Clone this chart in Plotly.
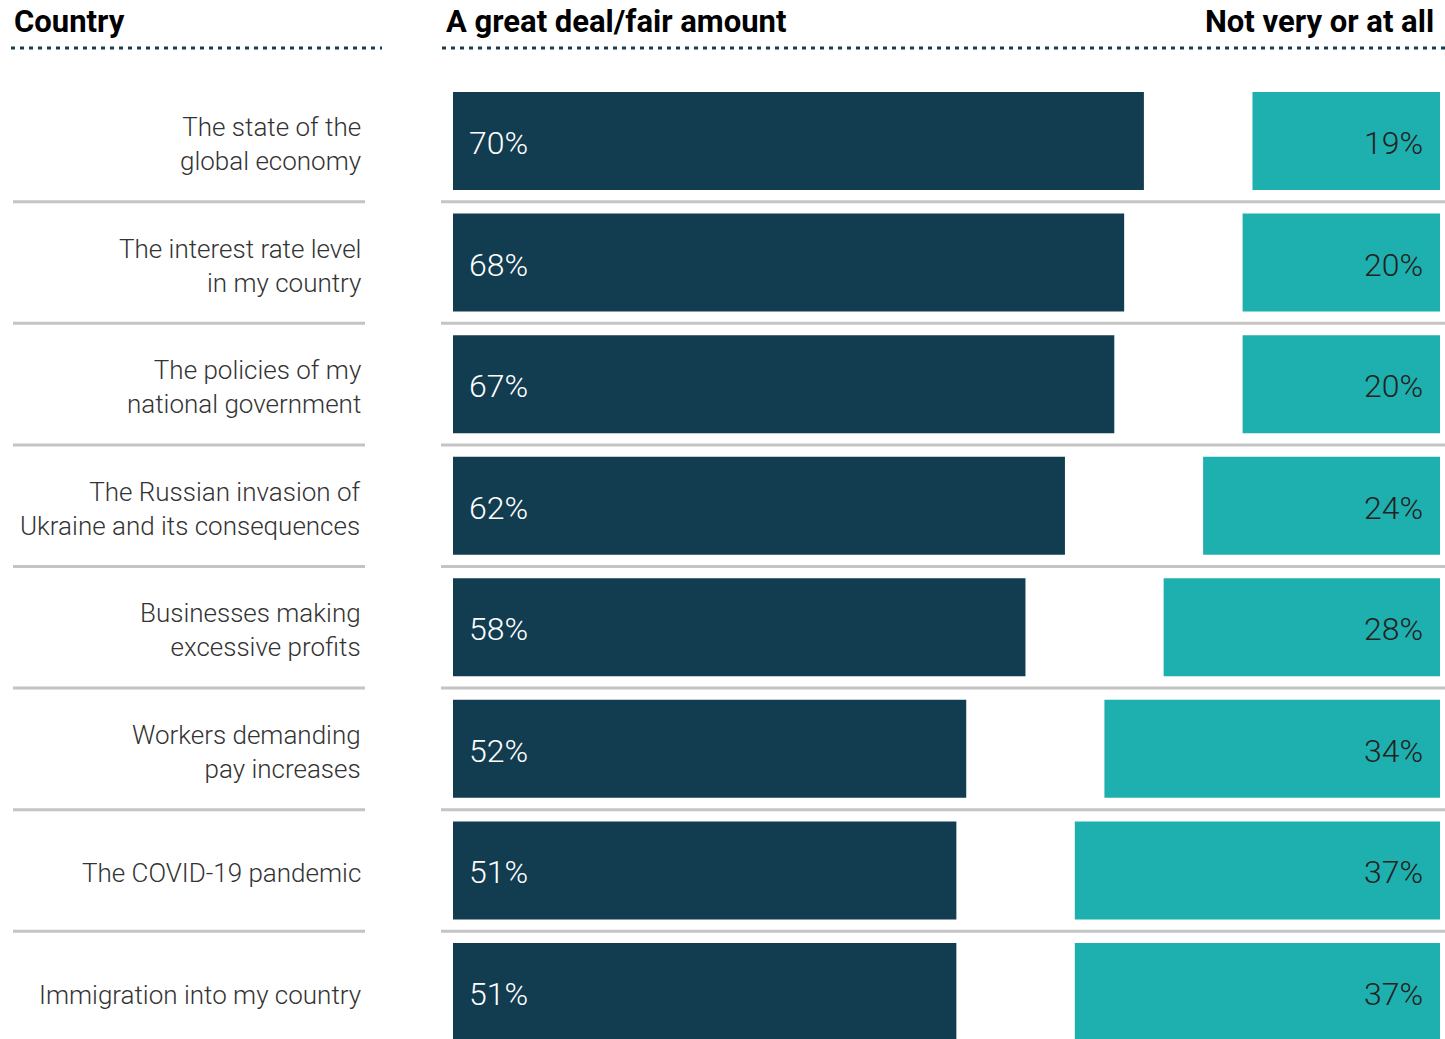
import plotly.graph_objects as go

# data
topics = [
    "The state of the<br>global economy",
    "The interest rate level<br>in my country",
    "The policies of my<br>national government",
    "The Russian invasion of<br>Ukraine and its consequences",
    "Businesses making<br>excessive profits",
    "Workers demanding<br>pay increases",
    "The COVID-19 pandemic",
    "Immigration into my country",
]
great_deal = [70, 68, 67, 62, 58, 52, 51, 51]
not_very = [19, 20, 20, 24, 28, 34, 37, 37]

W, H = 1445, 1039
DARK = "#123c4f"
TEAL = "#1eb0ae"
FONT = "Roboto"

px_per_pct = 9.87
bar_left = 453
row_step = 121.57
first_row = 141


def px(x):
    return x / W


def py(y):
    return 1 - y / H


fig = go.Figure()

fig.add_trace(go.Bar(
    y=topics, x=great_deal, orientation="h",
    marker=dict(color=DARK, line=dict(width=0)),
    width=0.806, hoverinfo="skip",
))
fig.add_trace(go.Bar(
    y=topics, x=not_very, base=[100 - v for v in not_very], orientation="h",
    marker=dict(color=TEAL, line=dict(width=0)),
    width=0.806, hoverinfo="skip",
))

annotations = []
for t, g, n in zip(topics, great_deal, not_very):
    annotations.append(dict(
        x=px(363), xref="paper", y=t, yref="y", text=t, showarrow=False,
        xanchor="right", yanchor="middle", align="right", yshift=-3,
        font=dict(family=FONT, size=26, color="#333333", weight=300),
    ))
    annotations.append(dict(
        x=0, xref="x", y=t, yref="y", text=f"{g}%", showarrow=False,
        xanchor="left", yanchor="middle", xshift=14, yshift=-2,
        font=dict(family=FONT, size=32, color="white", weight=300),
    ))
    annotations.append(dict(
        x=100, xref="x", y=t, yref="y", text=f"{n}%", showarrow=False,
        xanchor="right", yanchor="middle", xshift=-15, yshift=-2,
        font=dict(family=FONT, size=32, color="#222222", weight=300),
    ))

head_font = dict(family=FONT, size=31, color="black", weight=700)
for x, anchor, text in [(13, "left", "Country"),
                        (445, "left", "A great deal/fair amount"),
                        (1435, "right", "Not very or at all")]:
    annotations.append(dict(x=px(x), y=py(21), xref="paper", yref="paper", text=text,
                            showarrow=False, xanchor=anchor, yanchor="middle",
                            borderpad=0, font=head_font))

shapes = []
for x0, x1 in [(11, 382), (442, 1445)]:
    shapes.append(dict(type="line", xref="paper", yref="paper", x0=px(x0), x1=px(x1),
                       y0=py(48), y1=py(48), line=dict(color="#1a3c4f", width=3, dash="4px,5px")))
for i in range(len(topics) - 1):
    for x0, x1 in [(13, 365), (441, 1445)]:
        shapes.append(dict(type="line", xref="paper", yref="y", x0=px(x0), x1=px(x1),
                           y0=i + 0.5, y1=i + 0.5, line=dict(color="#c4c4c4", width=3)))

fig.update_layout(
    width=W, height=H,
    margin=dict(l=0, r=0, t=0, b=0),
    paper_bgcolor="white", plot_bgcolor="white",
    showlegend=False, barmode="overlay",
    xaxis=dict(range=[-bar_left / px_per_pct, (W - bar_left) / px_per_pct],
               visible=False, fixedrange=True),
    yaxis=dict(categoryorder="array", categoryarray=topics,
               range=[len(topics) - 1 + (H - first_row - (len(topics) - 1) * row_step) / row_step,
                      -first_row / row_step],
               visible=False, fixedrange=True),
    annotations=annotations,
    shapes=shapes,
)

# drop the default 8px body margin so the figure fills the window exactly
fig.write_html("out.html", config={"displayModeBar": False},
               post_script="document.body.style.margin='0';")
